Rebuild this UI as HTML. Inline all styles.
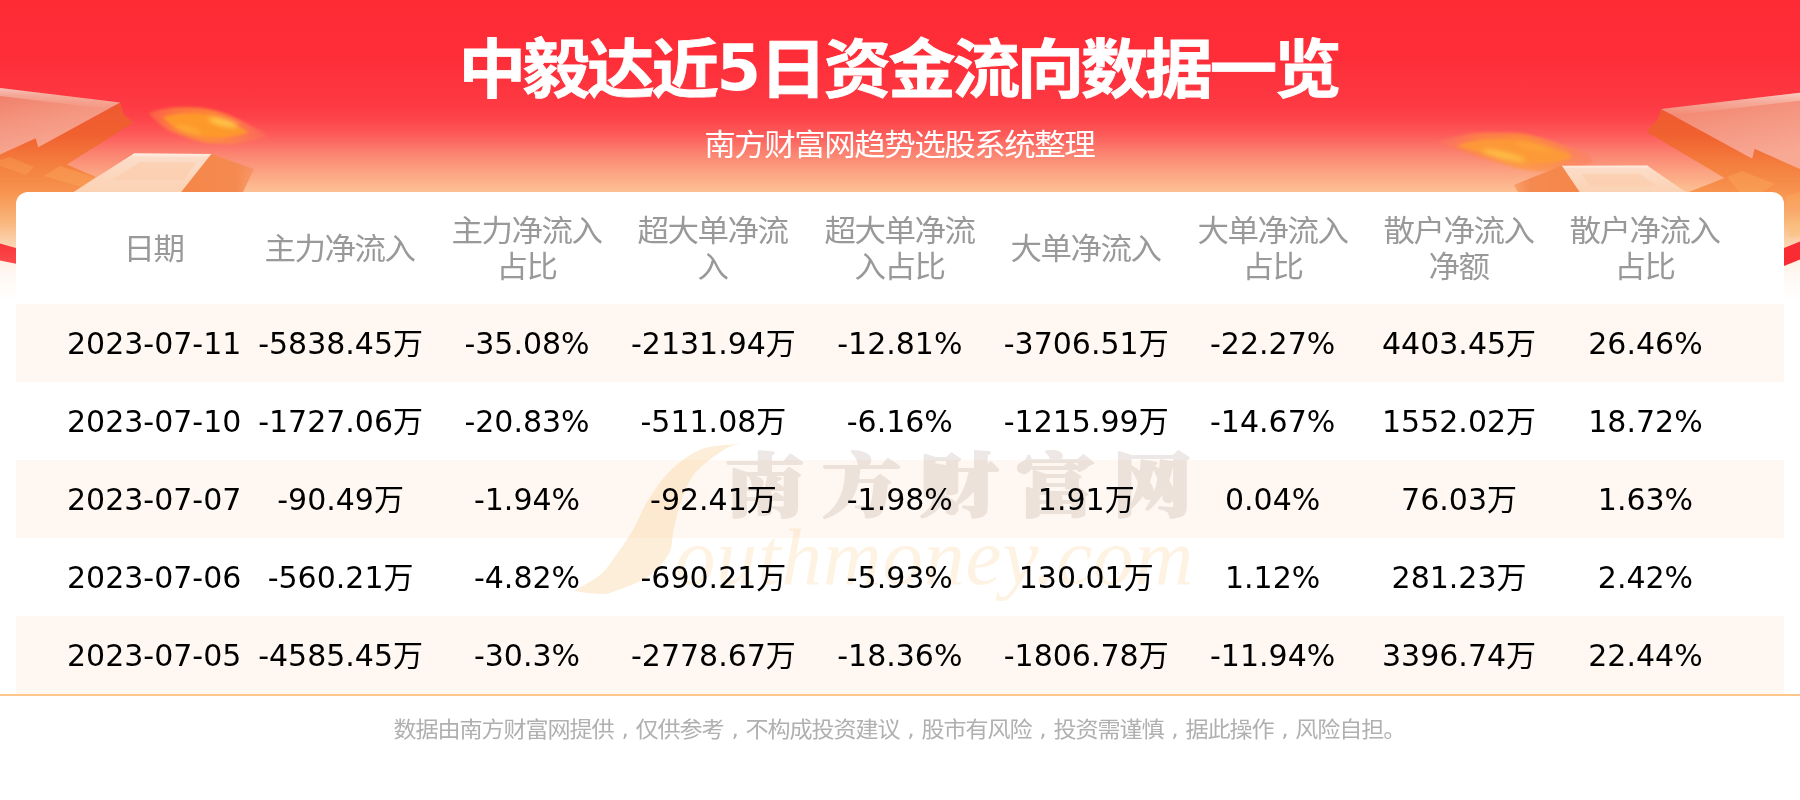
<!DOCTYPE html>
<html lang="zh-CN">
<head>
<meta charset="utf-8">
<title>中毅达近5日资金流向数据一览</title>
<style>
*{margin:0;padding:0;box-sizing:border-box;}
html,body{width:1800px;height:800px;overflow:hidden;background:#fff;}
body{position:relative;font-family:"DejaVu Sans","Noto Sans CJK SC","Liberation Sans",sans-serif;color:#000;}
#banner{position:absolute;left:0;top:0;width:1800px;height:310px;
  background:linear-gradient(to bottom,#fe2b35 0px,#fe2d38 55px,#fd3640 92px,#fd3a43 106px,#fd444a 119px,#fd5d5b 136px,#fb8270 153px,#fba181 171px,#fdc193 192px,#fdd2ae 215px,#fee6d2 245px,#fff8f3 275px,#fff 300px);}
#deco{position:absolute;left:0;top:0;width:1800px;height:310px;}
#title,#sub,#foot,.cells,#wm{will-change:transform;}
#title{position:absolute;left:0;top:25px;width:1800px;text-align:center;font-size:64px;line-height:90px;font-weight:bold;color:#fff;white-space:nowrap;letter-spacing:-3.05px;padding-right:3px;transform:scaleX(1.055);-webkit-text-stroke:0.8px #fff;}
#title span{display:inline-block;transform:translateY(-2px) scaleX(0.948);-webkit-text-stroke:0;}
#sub{position:absolute;left:0;top:123px;width:1800px;text-align:center;font-size:30px;line-height:44px;color:#fff;white-space:nowrap;letter-spacing:-1.43px;padding-right:1.4px;transform:scaleX(1.05);}
#card{position:absolute;left:16px;top:192px;width:1768px;height:502px;background:#fff;border-radius:12px 12px 0 0;}
.row{position:absolute;left:0;width:1768px;height:78px;}
.rbg{position:absolute;left:0;width:1768px;height:78px;background:#fff7f1;}
.cells{position:absolute;left:45px;top:1px;width:1680px;height:100%;display:flex;}
.cells div{flex:0 0 186.42px;width:186.42px;text-align:center;white-space:nowrap;font-size:30px;line-height:78px;display:flex;align-items:center;justify-content:center;}
#head{position:absolute;left:0;top:0;width:1768px;height:112px;}
#head .cells div{color:#999;line-height:36px;white-space:nowrap;}
#head .cells div b{font-weight:normal;display:block;letter-spacing:-1.43px;padding-right:1.4px;transform:scaleX(1.05);}
#line{position:absolute;left:0;top:694px;width:1800px;height:2px;background:#ffc68c;}
#foot{position:absolute;left:0;top:714px;width:1800px;text-align:center;font-size:22px;line-height:32px;color:#b0b0b0;white-space:nowrap;letter-spacing:-1.05px;word-spacing:1.55px;padding-right:1px;transform:scaleX(1.05);}
</style>
</head>
<body>
<div id="banner"></div>
<svg id="deco" viewBox="0 0 1800 310" width="1800" height="310">
<defs>
  <linearGradient id="gA" x1="0" y1="0" x2="0.35" y2="1">
    <stop offset="0" stop-color="#ef7a64"/><stop offset="0.45" stop-color="#f4937d"/><stop offset="1" stop-color="#f8a994"/>
  </linearGradient>
  <linearGradient id="gB" gradientUnits="userSpaceOnUse" x1="0" y1="105" x2="0" y2="250">
    <stop offset="0" stop-color="#ef5a31"/><stop offset="0.2" stop-color="#f0602f"/><stop offset="0.42" stop-color="#f4803f"/><stop offset="0.6" stop-color="#f7934f"/><stop offset="0.8" stop-color="#f9b57a"/><stop offset="1" stop-color="#fcdcc0"/>
  </linearGradient>
  <linearGradient id="gD" x1="0" y1="0" x2="0" y2="1">
    <stop offset="0" stop-color="#fef0e6"/><stop offset="0.12" stop-color="#fcdcc8"/><stop offset="1" stop-color="#fbd2b4"/>
  </linearGradient>
  <linearGradient id="gE" x1="0" y1="0" x2="1" y2="0">
    <stop offset="0" stop-color="#f48648"/><stop offset="0.75" stop-color="#f58a50"/><stop offset="1" stop-color="#f58a50" stop-opacity="0.55"/>
  </linearGradient>
  <linearGradient id="gE2" x1="1" y1="0" x2="0" y2="0">
    <stop offset="0" stop-color="#f48648"/><stop offset="0.75" stop-color="#f58a50"/><stop offset="1" stop-color="#f58a50" stop-opacity="0.55"/>
  </linearGradient>
  <linearGradient id="gH" x1="0" y1="0" x2="0" y2="1"><stop offset="0" stop-color="#fff" stop-opacity="0.55"/><stop offset="0.35" stop-color="#fff" stop-opacity="0.3"/><stop offset="1" stop-color="#fff" stop-opacity="0"/></linearGradient>
  <linearGradient id="gR" x1="0" y1="0" x2="0" y2="1">
    <stop offset="0" stop-color="#f8353b"/><stop offset="1" stop-color="#fb4a4c"/>
  </linearGradient>
  <radialGradient id="gF" cx="0.5" cy="0.5" r="0.5">
    <stop offset="0" stop-color="#ffb838"/><stop offset="0.35" stop-color="#fda232"/><stop offset="0.7" stop-color="#fb8245" stop-opacity="0.85"/><stop offset="1" stop-color="#fb6a50" stop-opacity="0"/>
  </radialGradient>
  <filter id="b1" x="-10%" y="-10%" width="120%" height="120%"><feGaussianBlur stdDeviation="0.7"/></filter>
  <filter id="b3" x="-20%" y="-40%" width="140%" height="180%"><feGaussianBlur stdDeviation="1.6"/></filter>
  <filter id="b4" x="-30%" y="-60%" width="160%" height="220%"><feGaussianBlur stdDeviation="2.4"/></filter>
  <linearGradient id="gF2" gradientUnits="userSpaceOnUse" x1="1438" y1="142" x2="1593" y2="163"><stop offset="0" stop-color="#fc7a5c" stop-opacity="0.6"/><stop offset="0.25" stop-color="#fc8a44"/><stop offset="0.55" stop-color="#fd9a34"/><stop offset="0.8" stop-color="#fc8a48" stop-opacity="0.95"/><stop offset="1" stop-color="#fc7a5c" stop-opacity="0.6"/></linearGradient>
  <linearGradient id="gF1" gradientUnits="userSpaceOnUse" x1="150" y1="112" x2="268" y2="137"><stop offset="0" stop-color="#fc7a4a" stop-opacity="0.75"/><stop offset="0.2" stop-color="#fc8a3c"/><stop offset="0.5" stop-color="#fd9a34"/><stop offset="0.75" stop-color="#fc8848" stop-opacity="0.95"/><stop offset="1" stop-color="#fc7a5c" stop-opacity="0.5"/></linearGradient>
</defs>
<!-- LEFT -->
<g>
  <polygon fill="url(#gB)" points="0,150 36,137 38.5,146.5 120.2,102.5 123.5,114 133.2,122.8 66.8,164.6 95.8,177 74,192 34,192 34,215 16,215 16,250 0,246"/>
  <polygon fill="#fbb060" fill-opacity="0.35" points="44,176 60,166 96,177.5 82,187"/><polygon fill="#fbb060" fill-opacity="0.28" points="0,160 10,157 34,167 26,175 0,166"/>
  <polygon fill="url(#gA)" filter="url(#b1)" points="0,87.9 120.2,102.5 38.2,147.2 35.7,138.2 0,154.5"/>
  <polygon fill="url(#gH)" points="0,87.9 120.2,102.5 108,109 0,96"/>
  <polygon fill="url(#gE)" points="211.3,154 254,169 243,192 181,192"/>
  <polygon fill="url(#gD)" points="73.8,192 134.3,153.3 211.3,154 181,192"/>
  <polygon fill="#fbcba8" fill-opacity="0.55" points="112,180 140,162 196,162.5 184,180"/>
  <polygon fill="url(#gR)" points="0,243.6 16,247.9 16,263.8 0,260.6"/>
  <g id="flameL">
    <path d="M148.6,113.3 C160,108 178,106.5 194.4,107.4 C207,108.2 217,110.5 225.6,113.7 C236,117.8 243,121.5 248.9,124.6 C256,128.5 262,132 268.3,135.4 C262,138.5 255,140 248.9,140.9 C241,143 233,144.2 225.6,144 C217,143.8 209,143 202.2,141.7 C190,139 180,135.5 171.1,131.6 C162,127 155,120 148.6,113.3 Z" fill="url(#gF1)" filter="url(#b3)" opacity="0.75"/>
    <path d="M148.6,113.3 C160,108 178,106.5 194.4,107.4 C207,108.2 217,110.5 225.6,113.7 C236,117.8 243,121.5 248.9,124.6 C256,128.5 262,132 268.3,135.4 C262,138.5 255,140 248.9,140.9 C241,143 233,144.2 225.6,144 C217,143.8 209,143 202.2,141.7 C190,139 180,135.5 171.1,131.6 C162,127 155,120 148.6,113.3 Z" fill="#fe9a2c" filter="url(#b4)" opacity="0.95" transform="translate(206 125.5) scale(0.72 0.66) translate(-208.5 -125.5)"/>
    <ellipse cx="223" cy="122.5" rx="15" ry="3.4" transform="rotate(14 223 122.5)" fill="#ffcc50" fill-opacity="0.9" filter="url(#b4)"/>
    <ellipse cx="188" cy="129.5" rx="14" ry="3" transform="rotate(17 188 129.5)" fill="#ffb038" fill-opacity="0.75" filter="url(#b4)"/>
  </g>
</g>
<!-- RIGHT -->
<g>
  <polygon fill="url(#gB)" points="1800,165 1754.5,148.8 1752.1,158.5 1661.1,109 1658,118.7 1646.5,131.7 1724.5,178 1688.7,192 1766,192 1766,215 1784,215 1784,250 1800,243"/>
  <polygon fill="#fbb060" fill-opacity="0.35" points="1727,177 1742,171 1775,184 1762,192 1740,192"/><polygon fill="#fbb060" fill-opacity="0.3" points="1786,196 1800,192 1800,205 1788,208"/><polygon fill="#fbc070" fill-opacity="0.4" points="1788,222 1800,219 1800,236 1790,238"/>
  <polygon fill="url(#gA)" filter="url(#b1)" points="1800,92.7 1661.1,109 1752.1,158.5 1754.5,148.8 1800,169"/>
  <polygon fill="url(#gH)" points="1800,92.7 1661.1,109 1673,115.5 1800,100.8"/>
  <g id="flameR">
    <path d="M1437.3,142.7 C1450,137 1465,133.2 1480,132.7 C1494,132.2 1507,132.2 1520,133.3 C1535,135.5 1548,139.5 1560,144 C1570,147.5 1579,150.5 1586.7,153.3 C1590,156 1592,159.5 1593.3,162.7 C1585,167 1572,170 1560,171 C1550,171.6 1541,171.5 1533.3,170.7 C1523,169.3 1514,167.5 1506.7,165.3 C1492,161 1479,157 1466.7,153.3 C1456,150 1446,146.5 1437.3,142.7 Z" fill="url(#gF2)" filter="url(#b3)" opacity="0.72"/>
    <path d="M1437.3,142.7 C1450,137 1465,133.2 1480,132.7 C1494,132.2 1507,132.2 1520,133.3 C1535,135.5 1548,139.5 1560,144 C1570,147.5 1579,150.5 1586.7,153.3 C1590,156 1592,159.5 1593.3,162.7 C1585,167 1572,170 1560,171 C1550,171.6 1541,171.5 1533.3,170.7 C1523,169.3 1514,167.5 1506.7,165.3 C1492,161 1479,157 1466.7,153.3 C1456,150 1446,146.5 1437.3,142.7 Z" fill="#fd9c36" filter="url(#b4)" opacity="0.85" transform="translate(1514 151.5) scale(0.74 0.62) translate(-1515 -152)"/>
    <ellipse cx="1504" cy="155.5" rx="22" ry="3.6" transform="rotate(13 1504 155.5)" fill="#ffc448" fill-opacity="0.85" filter="url(#b4)"/>
    <ellipse cx="1534" cy="147.5" rx="18" ry="3" transform="rotate(13 1534 147.5)" fill="#fda838" fill-opacity="0.7" filter="url(#b4)"/>
  </g>
  <polygon fill="url(#gE2)" points="1561.9,165.7 1513.8,184.9 1517.9,192 1579.8,192"/>
  <polygon fill="url(#gD)" points="1561.9,165.7 1647.2,165.4 1685.7,192 1579.8,192"/>
  <polygon fill="#fbcba8" fill-opacity="0.55" points="1581,174 1640,174 1656,186 1590,186"/>
  <polygon fill="#fa2c33" points="1784,247.9 1800,241.5 1800,259.6 1784,266"/>
</g>
</svg>
<div id="title">中毅达近<span>5</span>日资金流向数据一览</div>
<div id="sub">南方财富网趋势选股系统整理</div>
<div id="card">
  <div id="head"><div class="cells">
    <div><b>日期</b></div><div><b>主力净流入</b></div><div><b>主力净流入<br>占比</b></div><div><b>超大单净流<br>入</b></div><div><b>超大单净流<br>入占比</b></div><div><b>大单净流入</b></div><div><b>大单净流入<br>占比</b></div><div><b>散户净流入<br>净额</b></div><div><b>散户净流入<br>占比</b></div>
  </div></div>
  <div class="rbg" style="top:112px"></div><div class="rbg" style="top:268px"></div><div class="rbg" style="top:424px"></div>
  <svg id="wm" viewBox="0 0 700 200" width="700" height="200" style="position:absolute;left:544px;top:238px;">
    <path d="M180.0,14.0 C173.7,14.8 153.5,14.7 142.0,19.0 C130.5,23.3 120.1,31.3 111.0,40.0 C101.9,48.7 93.8,61.0 87.5,71.0 C81.2,81.0 78.6,90.5 73.0,100.0 C67.4,109.5 59.5,120.5 54.0,128.0 C48.5,135.5 46.7,139.5 40.0,145.0 C33.3,150.5 18.0,158.3 13.6,161.0 C18.0,161.5 33.3,163.9 40.0,164.0 C46.7,164.1 46.1,164.3 54.0,161.5 C61.9,158.7 78.3,153.3 87.5,147.0 C96.7,140.7 104.7,131.3 109.0,123.5 C113.3,115.7 111.6,108.8 113.6,100.0 C115.6,91.2 117.4,80.5 121.0,71.0 C124.6,61.5 127.9,51.5 135.0,43.0 C142.1,34.5 156.0,24.8 163.5,20.0 C171.0,15.2 177.2,15.0 180.0,14.0 Z" fill="#fbd5a0" fill-opacity="0.40"/>
    <g opacity="0.26"><text transform="scale(1.15,1)" x="143.5" y="81.5" font-family="'Noto Serif CJK SC','Liberation Serif',serif" font-weight="900" font-size="69" letter-spacing="15.3" fill="#b9a59c" stroke="#b9a59c" stroke-width="2.2" stroke-linejoin="round">南方财富网</text></g>
    <text x="115" y="153.5" font-family="'Liberation Serif',serif" font-style="italic" font-size="81" letter-spacing="1" fill="#fbd5a0" fill-opacity="0.30">outhmoney.com</text>
  </svg>
  <div class="row" style="top:112px"><div class="cells">
    <div>2023-07-11</div><div>-5838.45万</div><div>-35.08%</div><div>-2131.94万</div><div>-12.81%</div><div>-3706.51万</div><div>-22.27%</div><div>4403.45万</div><div>26.46%</div>
  </div></div>
  <div class="row" style="top:190px"><div class="cells">
    <div>2023-07-10</div><div>-1727.06万</div><div>-20.83%</div><div>-511.08万</div><div>-6.16%</div><div>-1215.99万</div><div>-14.67%</div><div>1552.02万</div><div>18.72%</div>
  </div></div>
  <div class="row" style="top:268px"><div class="cells">
    <div>2023-07-07</div><div>-90.49万</div><div>-1.94%</div><div>-92.41万</div><div>-1.98%</div><div>1.91万</div><div>0.04%</div><div>76.03万</div><div>1.63%</div>
  </div></div>
  <div class="row" style="top:346px"><div class="cells">
    <div>2023-07-06</div><div>-560.21万</div><div>-4.82%</div><div>-690.21万</div><div>-5.93%</div><div>130.01万</div><div>1.12%</div><div>281.23万</div><div>2.42%</div>
  </div></div>
  <div class="row" style="top:424px"><div class="cells">
    <div>2023-07-05</div><div>-4585.45万</div><div>-30.3%</div><div>-2778.67万</div><div>-18.36%</div><div>-1806.78万</div><div>-11.94%</div><div>3396.74万</div><div>22.44%</div>
  </div></div>
</div>
<div id="line"></div>
<div id="foot">数据由南方财富网提供 , 仅供参考 , 不构成投资建议 , 股市有风险 , 投资需谨慎 , 据此操作 , 风险自担。</div>
</body>
</html>
